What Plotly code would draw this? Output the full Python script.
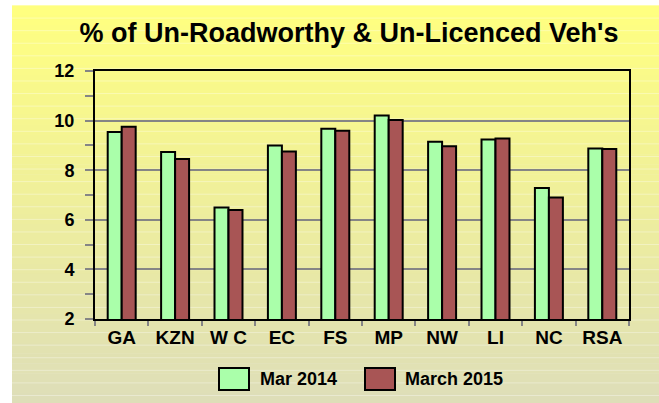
import plotly.graph_objects as go

regions = ['GA', 'KZN', 'W C', 'EC', 'FS', 'MP', 'NW', 'LI', 'NC', 'RSA']
mar_2014 = [9.54, 8.73, 6.50, 9.00, 9.67, 10.21, 9.15, 9.24, 7.28, 8.87]
march_2015 = [9.75, 8.45, 6.40, 8.75, 9.59, 10.02, 8.97, 9.28, 6.90, 8.85]
series_names = ['Mar 2014', 'March 2015']
colors = ['#aaffaa', '#a85555']

W, H = 659, 403
L, R, T, B = 95, 30, 71, 84
PW, PH = W - L - R, H - T - B
FONT = 'Liberation Sans, Arial, sans-serif'


def px(x):
    return (x - L) / PW


def py(y):
    return (H - B - y) / PH


fig = go.Figure()
for name, vals, col in zip(series_names, [mar_2014, march_2015], colors):
    fig.add_trace(go.Bar(
        x=regions, y=vals, name=name,
        marker=dict(color=col, line=dict(color='black', width=2)),
        showlegend=False,
    ))

# yellow gradient background (Excel style chart area)
shapes = []
top, bot = (255, 255, 128), (222, 222, 184)
y0, y1, n = 5, H, 40
for i in range(n):
    t = i / (n - 1)
    c = tuple(round(a + (b - a) * t) for a, b in zip(top, bot))
    ya = y0 + (y1 - y0) * i / n
    yb = y0 + (y1 - y0) * (i + 1) / n
    shapes.append(dict(type='rect', xref='paper', yref='paper', layer='below',
                       x0=px(12), x1=px(W + 2), y0=py(ya), y1=py(yb + 0.6),
                       fillcolor='rgb(%d,%d,%d)' % c, line=dict(width=0)))
yy = 5.5
while yy < H:
    shapes.append(dict(type='line', xref='paper', yref='paper', layer='below',
                       x0=px(12), x1=px(W + 2), y0=py(yy), y1=py(yy),
                       line=dict(color='rgba(255,255,255,0.35)', width=1)))
    yy += 12.58

# legend drawn by hand so the swatches are big like the original
annotations = []
for (bx, tx), name, col in zip([(219, 258), (365, 403)], series_names, colors):
    shapes.append(dict(type='rect', xref='paper', yref='paper',
                       x0=px(bx), x1=px(bx + 30), y0=py(368), y1=py(390),
                       fillcolor=col, line=dict(color='black', width=2)))
    annotations.append(dict(x=px(tx), y=py(379), xref='paper', yref='paper',
                            text=name, showarrow=False, xanchor='left', yanchor='middle',
                            font=dict(family=FONT, size=18, color='black', weight='bold')))

fig.update_layout(
    width=W, height=H,
    margin=dict(l=L, r=R, t=T, b=B),
    paper_bgcolor='white',
    plot_bgcolor='rgba(0,0,0,0)',
    title=dict(text="% of Un-Roadworthy & Un-Licenced Veh's", x=349 / W, xanchor='center',
               y=1 - 33 / H, yanchor='middle',
               font=dict(family=FONT, size=27, color='black', weight='bold')),
    barmode='group', bargap=0.476, bargroupgap=0,
    shapes=shapes, annotations=annotations,
    showlegend=False,
)
fig.update_yaxes(
    range=[2, 12], dtick=2, showgrid=True, gridcolor='#858585', gridwidth=1.5,
    showline=True, linecolor='black', linewidth=2, mirror=True,
    ticks='outside', ticklen=8, tickcolor='#858585', tickwidth=1.5,
    minor=dict(dtick=1, ticks='outside', ticklen=8, tickcolor='#858585', showgrid=False),
    ticklabelstandoff=7, zeroline=False,
    tickfont=dict(family=FONT, size=18, color='black', weight='bold'),
)
fig.update_xaxes(
    showline=True, linecolor='black', linewidth=2, mirror=True,
    ticks='outside', tickson='boundaries', ticklen=5, tickcolor='#858585', tickwidth=1.5,
    tickfont=dict(family=FONT, size=19, color='black', weight='bold'),
)

fig.write_html("out.html", config={'displayModeBar': False},
               post_script="document.body.style.margin='0';")
